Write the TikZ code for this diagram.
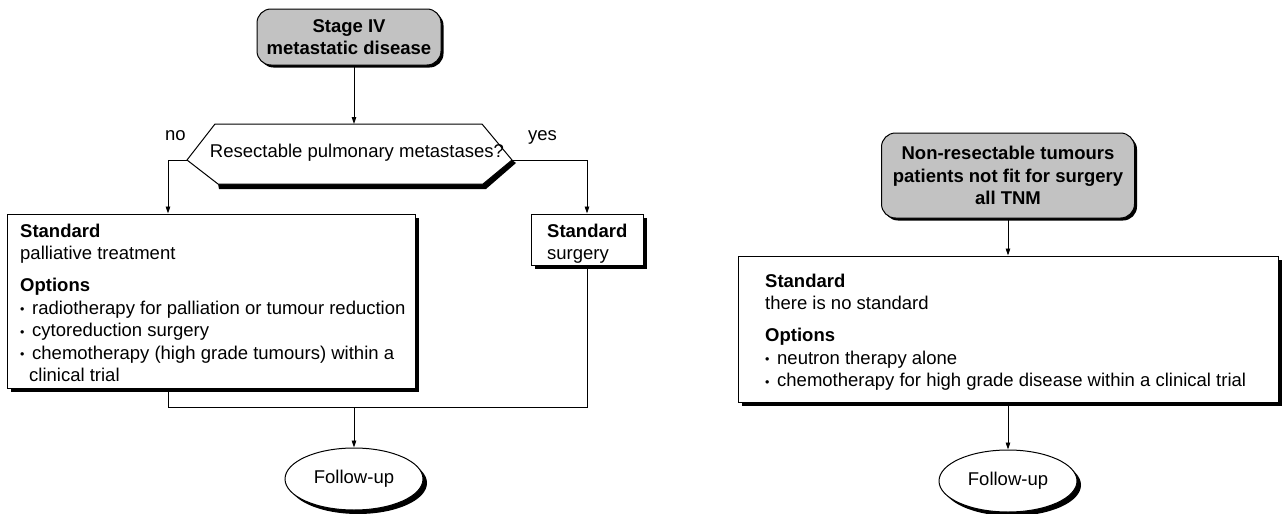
\documentclass[tikz,border=0pt]{standalone}
\usepackage{fontspec}
\setmainfont{Liberation Sans}
\usetikzlibrary{shapes.geometric,shadows,arrows.meta}
\newcommand\bul{\makebox[12pt][l]{\raisebox{0.5pt}{\fontsize{12.5}{12.5}\selectfont\textbullet}}}
\begin{document}
\begin{tikzpicture}[x=1pt,y=-1pt,
  txt/.style={font=\fontsize{18.5}{22.5}\selectfont, inner sep=0pt},
  hdr/.style={font=\fontsize{18.5}{22.5}\selectfont\bfseries, align=center},
  blk/.style={txt, align=left, anchor=north west},
  shad/.style={drop shadow={shadow xshift=4pt, shadow yshift=-4pt, fill=black, opacity=1}},
  box/.style={draw, line width=1pt, fill=white, rectangle, inner sep=0pt, shad},
  grbox/.style={draw, line width=1pt, fill=gray!48, rectangle, rounded corners=14pt, inner sep=0pt, hdr,
    drop shadow={shadow xshift=2.5pt, shadow yshift=-2.5pt, fill=black, opacity=1}},
  oval/.style={draw, line width=1pt, fill=white, ellipse, inner sep=0pt, minimum width=138pt, minimum height=62pt,
    font=\fontsize{18.5}{22.5}\selectfont, shad},
  conn/.style={line width=0.9pt},
  arr/.style={conn, -{Triangle[length=7pt,width=4.5pt]}},
]
\useasboundingbox (0,0) rectangle (1286,514);

% ---------- left chart ----------
\node[grbox, minimum width=184pt, minimum height=56pt] (s4) at (349,37) {Stage IV\\metastatic disease};

\coordinate (hexN) at (354,124);
\coordinate (hexW) at (187,160);
\coordinate (hexE) at (512,160);
\fill (218,184) -- (483,184) -- (512,160) -- (516,163) -- (486,189) -- (219,189) -- cycle;
\draw[line width=1pt, fill=white] (hexW) -- (215,124) -- (482,124) -- (hexE) -- (483,184) -- (218,184) -- cycle;
\node[txt, anchor=base] (q) at (357,157) {Resectable pulmonary metastases?};
\node[txt, anchor=base west] (no) at (165,140) {no};
\node[txt, anchor=base west] (yes) at (528,140) {yes};

\node[box, minimum width=408pt, minimum height=174pt] (lb) at (211,301) {};
\node[blk] (lbt) at (20,223) {\rule{0pt}{14pt}\textbf{Standard}\\
palliative treatment\\[9.5pt]
\textbf{Options}\\
\bul radiotherapy for palliation or tumour reduction\\
\bul cytoreduction surgery\\
\bul chemotherapy (high grade tumours) within a\\
\hspace*{9pt}clinical trial};

\node[box, minimum width=112pt, minimum height=51pt] (sb) at (587,239.5) {};
\node[blk] (sbt) at (547,223) {\rule{0pt}{14pt}\textbf{Standard}\\surgery};

\coordinate (noc) at (168,160);
\coordinate (yesc) at (587,160);
\coordinate (j) at (354,407);
\draw[arr] (s4.south -| hexN) -- (hexN);
\draw[arr] (hexW) -- (noc) -- (noc |- lb.north);
\draw[arr] (hexE) -- (yesc) -- (yesc |- sb.north);
\draw[conn] (lb.south -| noc) |- (sb.south |- j) -- (sb.south);

\node[oval] (fu1) at (354,479) {Follow-up};
\draw[arr] (j) -- (fu1.north);

% ---------- right chart ----------
\node[grbox, minimum width=253pt, minimum height=85pt] (nr) at (1008,175.5) {Non-resectable tumours\\patients not fit for surgery\\all TNM};

\node[box, minimum width=540pt, minimum height=146pt] (rb) at (1008,329) {};
\node[blk] (rbt) at (765,273) {\rule{0pt}{14pt}\textbf{Standard}\\
there is no standard\\[9.5pt]
\textbf{Options}\\
\bul neutron therapy alone\\
\bul chemotherapy for high grade disease within a clinical trial};

\node[oval] (fu2) at (1008,481) {Follow-up};

\draw[arr] (nr.south) -- (rb.north);
\draw[arr] (rb.south) -- (fu2.north);
\end{tikzpicture}
\end{document}
